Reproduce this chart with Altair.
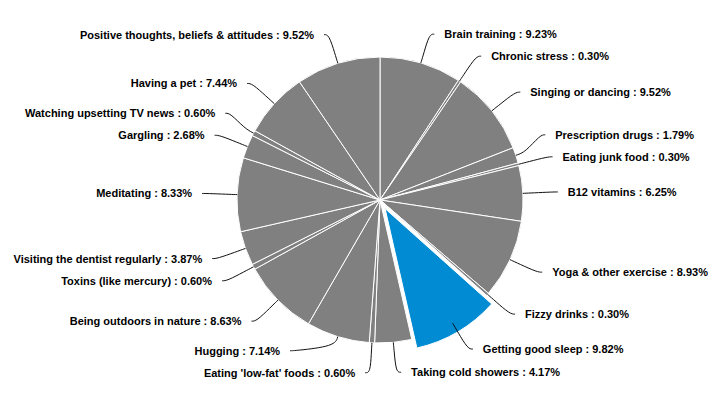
import math
import altair as alt
import pandas as pd

names = [
    "Brain training", "Chronic stress", "Singing or dancing", "Prescription drugs",
    "Eating junk food", "B12 vitamins", "Yoga & other exercise", "Fizzy drinks",
    "Getting good sleep", "Taking cold showers", "Eating 'low-fat' foods", "Hugging",
    "Being outdoors in nature", "Toxins (like mercury)", "Visiting the dentist regularly",
    "Meditating", "Gargling", "Watching upsetting TV news", "Having a pet",
    "Positive thoughts, beliefs & attitudes",
]
values = [9.23, 0.30, 9.52, 1.79, 0.30, 6.25, 8.93, 0.30, 9.82, 4.17,
          0.60, 7.14, 8.63, 0.60, 3.87, 8.33, 2.68, 0.60, 7.44, 9.52]
sliced_name = "Getting good sleep"

df = pd.DataFrame({"name": names, "value": values, "idx": list(range(len(names)))})
df["sliced"] = [1 if n == sliced_name else 0 for n in names]

GRAY = "#808080"
BLUE = "#008bd2"
CX, CY = 372, 192      # pie centre in view coordinates
R = 143                # pie radius
LD = 30                # label distance
SLICE = 10             # sliced offset
SP = 22                # minimum label spacing
RL = R + LD

base = (
    alt.Chart(df)
    .transform_window(cum="sum(value)", sort=[alt.SortField("idx")], frame=[None, 0])
    .transform_joinaggregate(total="sum(value)")
    .transform_calculate(
        f0="(datum.cum - datum.value) / datum.total",
        f1="datum.cum / datum.total",
    )
    .transform_calculate(
        mid="PI * (datum.f0 + datum.f1)",
    )
    .transform_calculate(
        sgn="sin(datum.mid) >= 0 ? 1 : -1",
        ny=f"{CY} - {RL} * cos(datum.mid)",
        label="datum.name + ' : ' + format(datum.value, '.2f') + '%'",
    )
    .transform_window(
        rk="row_number()", groupby=["sgn"],
        sort=[alt.SortField("ny", order="descending")],
    )
    .transform_calculate(key=f"datum.ny + datum.rk * {SP}")
    .transform_window(
        rmin="min(key)", groupby=["sgn"],
        sort=[alt.SortField("ny", order="descending")], frame=[None, 0],
    )
    .transform_calculate(ly=f"datum.rmin - datum.rk * {SP}")
    .transform_calculate(
        lx=f"{CX} + datum.sgn * sqrt(max(0, {RL}*{RL} - (datum.ly - {CY})*(datum.ly - {CY})))",
    )
    .transform_calculate(
        tx="datum.lx + datum.sgn * 15",
        ty="datum.ly + 1",
    )
)

arcs = (
    base.transform_calculate(
        ax=f"{CX} + {SLICE} * datum.sliced * sin(datum.mid)",
        ay=f"{CY} - {SLICE} * datum.sliced * cos(datum.mid)",
    )
    .mark_arc(outerRadius=R, stroke="white", strokeWidth=1)
    .encode(
        theta=alt.Theta("f0:Q", scale=alt.Scale(domain=[0, 1], range=[0, 2 * math.pi])),
        theta2="f1:Q",
        x=alt.X("ax:Q", scale=None),
        y=alt.Y("ay:Q", scale=None),
        color=alt.condition("datum.sliced == 1", alt.value(BLUE), alt.value(GRAY)),
    )
)

lines = (
    base.transform_calculate(pts="[0, 1, 2, 3]")
    .transform_flatten(["pts"])
    .transform_calculate(
        px=(f"datum.pts == 0 ? datum.lx + datum.sgn * 5 : datum.pts == 1 ? datum.lx : "
            f"datum.pts == 2 ? {CX} + {R + 10} * sin(datum.mid) : {CX} + {R} * sin(datum.mid)"),
        py=(f"datum.pts <= 1 ? datum.ly : "
            f"datum.pts == 2 ? {CY} - {R + 10} * cos(datum.mid) : {CY} - {R} * cos(datum.mid)"),
    )
    .mark_line(interpolate="basis", color="#111111", strokeWidth=1)
    .encode(
        x=alt.X("px:Q", scale=None),
        y=alt.Y("py:Q", scale=None),
        detail="name:N",
        order="pts:Q",
    )
)

text_style = dict(baseline="middle", font="Liberation Sans", fontWeight="bold",
                  fontSize=11, color="#000000")

text_right = (
    base.transform_filter("datum.sgn > 0")
    .mark_text(align="left", **text_style)
    .encode(x=alt.X("tx:Q", scale=None), y=alt.Y("ty:Q", scale=None), text="label:N")
)
text_left = (
    base.transform_filter("datum.sgn < 0")
    .mark_text(align="right", **text_style)
    .encode(x=alt.X("tx:Q", scale=None), y=alt.Y("ty:Q", scale=None), text="label:N")
)

chart = (
    alt.layer(arcs, lines, text_right, text_left)
    .properties(width=704, height=377, autosize="none", padding=0, background="white")
    .configure_view(stroke=None)
)

chart.save("out.html", embed_options={"renderer": "svg", "actions": False})
